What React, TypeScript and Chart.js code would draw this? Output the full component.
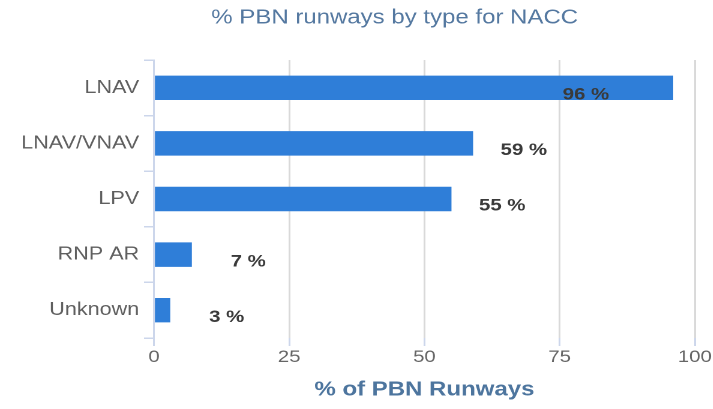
import { useEffect, useRef } from "react";
import { Chart, registerables } from "chart.js";

Chart.register(...registerables);

const categories = ["LNAV", "LNAV/VNAV", "LPV", "RNP AR", "Unknown"];
const percentValues = [96, 59, 55, 7, 3];
const xTickValues = [0, 25, 50, 75, 100];
const chartTitle = "% PBN runways by type for NACC";
const xAxisTitle = "% of PBN Runways";

const FONT = "'Liberation Sans', Arial, Helvetica, sans-serif";
const STRETCH = 1.2;
const W = 713;
const H = 409;

const titlePlugin = {
  id: "customTitle",
  afterDraw(chart: any) {
    const { ctx, chartArea } = chart;
    ctx.save();
    ctx.font = `20px ${FONT}`;
    ctx.fillStyle = "#5478a0";
    ctx.textAlign = "center";
    ctx.textBaseline = "middle";
    const x = chartArea.left + chartArea.width * 0.445;
    ctx.fillText(chartTitle, x, 18);
    ctx.restore();
  },
};

const labelPlugin = {
  id: "barLabels",
  afterDatasetsDraw(chart: any) {
    const { ctx, chartArea } = chart;
    const meta = chart.getDatasetMeta(0);
    ctx.save();
    ctx.font = `bold 17px ${FONT}`;
    ctx.fillStyle = "#3a3a3a";
    ctx.textAlign = "right";
    ctx.textBaseline = "middle";
    meta.data.forEach((bar: any, i: number) => {
      const text = `${percentValues[i]} %`;
      let right = bar.x + 74 / STRETCH;
      if (right > chartArea.right) right = bar.x - 64 / STRETCH;
      ctx.fillText(text, right, bar.y + 7);
    });
    ctx.restore();
  },
};

export default function App() {
  const canvasRef = useRef<HTMLCanvasElement | null>(null);

  useEffect(() => {
    document.body.style.margin = "0";
    const canvas = canvasRef.current;
    if (!canvas) return;
    const chart = new Chart(canvas, {
      type: "bar",
      data: {
        labels: categories,
        datasets: [
          {
            data: percentValues,
            backgroundColor: "#2f7ed8",
            borderWidth: 0,
            categoryPercentage: 1,
            barPercentage: 0.44,
          },
        ],
      },
      options: {
        indexAxis: "y",
        animation: false,
        responsive: true,
        maintainAspectRatio: false,
        devicePixelRatio: 2,
        layout: { padding: { left: 0, right: 18 / STRETCH, top: 60, bottom: 0 } },
        plugins: {
          legend: { display: false },
          title: { display: false },
          tooltip: { enabled: false },
        },
        scales: {
          x: {
            type: "linear",
            min: 0,
            max: 100,
            afterBuildTicks(scale: any) {
              scale.ticks = xTickValues.map((v) => ({ value: v }));
            },
            afterFit(scale: any) {
              scale.height = 71;
            },
            grid: {
              color: "#d9d9d9",
              lineWidth: 1.5,
              tickColor: "#ccd6eb",
              tickLength: 8,
            },
            border: { display: false },
            ticks: {
              color: "#666666",
              font: { family: FONT, size: 17 },
              padding: 1,
            },
            title: {
              display: true,
              text: xAxisTitle,
              color: "#4d759e",
              font: { family: FONT, size: 20, weight: "bold" },
              padding: { top: 4, bottom: 7 },
            },
          },
          y: {
            type: "category",
            afterFit(scale: any) {
              scale.width = 154 / STRETCH;
            },
            grid: {
              drawOnChartArea: false,
              drawTicks: true,
              offset: true,
              tickLength: 10 / STRETCH,
              color: "#ccd6eb",
              lineWidth: 1.5,
            },
            border: { display: true, color: "#ccd6eb", width: 1.5 },
            ticks: {
              color: "#5f5f5f",
              font: { family: FONT, size: 18 },
              padding: 4,
            },
          },
        },
      },
      plugins: [titlePlugin, labelPlugin],
    });
    return () => chart.destroy();
  }, []);

  return (
    <div style={{ width: `${W}px`, height: `${H}px`, overflow: "hidden" }}>
      <div
        style={{
          position: "relative",
          width: `${W / STRETCH}px`,
          height: `${H}px`,
          transform: `scaleX(${STRETCH})`,
          transformOrigin: "0 0",
        }}
      >
        <canvas ref={canvasRef} />
      </div>
    </div>
  );
}
